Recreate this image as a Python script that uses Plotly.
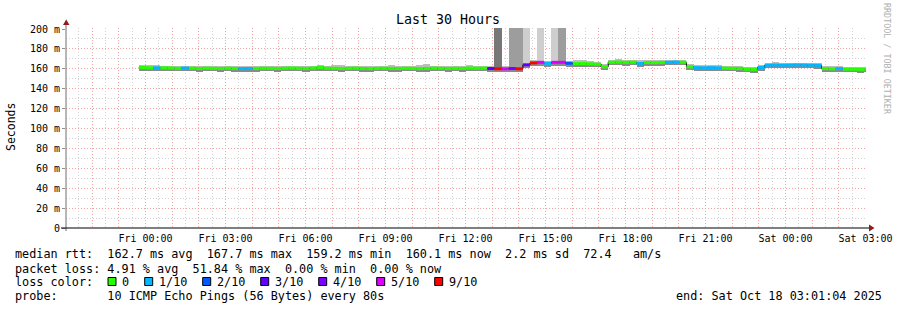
import plotly.graph_objects as go
import pandas as pd

# ---------------- data ----------------
start_time = "2025-10-16 23:45"
step_minutes = 16
axis_start = "2025-10-16 21:01:04"
axis_end = "2025-10-18 03:01:04"

median_ms = [
    161.3, 161.0, 161.0, 161.0, 160.8, 160.5, 160.8, 160.6, 160.4, 160.7,
    160.5, 160.3, 160.6, 160.4, 160.2, 160.3, 160.4, 160.6, 160.5, 160.3,
    160.6, 160.8, 160.5, 160.4, 160.7, 161.4, 160.6, 160.5, 160.3, 160.5,
    160.7, 160.4, 160.2, 160.5, 160.6, 160.4, 160.3, 160.6, 160.5, 160.2,
    160.4, 160.7, 160.5, 160.3, 160.6, 160.4, 160.8, 160.6, 160.7, 160.3,
    160.0, 160.0, 160.3, 160.0, 164.0, 166.0, 166.5, 165.5, 166.5, 166.5,
    165.5, 165.2, 165.3, 165.0, 164.6, 162.0, 166.6, 166.8, 166.5, 166.7,
    165.4, 166.4, 166.2, 166.5, 166.6, 166.8, 166.6, 162.0, 161.2, 161.0,
    161.2, 161.0, 160.6, 160.5, 160.4, 159.5, 159.4, 161.4, 163.6, 163.8,
    163.6, 163.7, 163.9, 163.8, 163.6, 163.5, 160.2, 160.0, 160.2, 159.6,
    159.5, 159.4, 159.6,
]

loss_pings = [
    0, 0, 1, 0, 0, 0, 1, 0, 0, 0,
    0, 0, 0, 0, 1, 1, 0, 0, 0, 0,
    0, 0, 0, 0, 0, 0, 0, 0, 0, 0,
    0, 0, 0, 0, 0, 0, 0, 0, 0, 0,
    0, 0, 0, 0, 0, 0, 0, 0, 0, 3,
    9, 5, 4, 9, 3, 9, 5, 1, 5, 5,
    2, 0, 0, 0, 0, 0, 0, 0, 0, 0,
    1, 0, 0, 0, 1, 1, 0, 0, 1, 1,
    1, 1, 0, 0, 0, 0, 0, 1, 1, 1,
    1, 1, 1, 1, 1, 1, 0, 0, 1, 0,
    0, 0, 0,
]

smoke_low = [
    158.0, 157.8, 157.9, 157.8, 157.6, 157.3, 157.6, 157.4, 157.2, 157.5,
    157.3, 157.1, 157.4, 157.2, 157.0, 157.1, 157.2, 157.4, 157.3, 157.1,
    157.4, 157.6, 157.3, 157.2, 157.5, 158.0, 157.4, 157.3, 157.1, 157.3,
    157.5, 157.2, 157.0, 157.3, 157.4, 157.2, 157.1, 157.4, 157.3, 157.0,
    157.2, 157.5, 157.3, 157.1, 157.4, 157.2, 157.6, 157.4, 157.5, 157.0,
    156.8, 156.9, 157.0, 156.8, 160.6, 162.8, 163.2, 162.3, 163.3, 163.2,
    162.3, 162.0, 162.1, 161.8, 161.4, 158.8, 163.4, 163.6, 163.3, 163.5,
    162.2, 163.2, 163.0, 163.3, 163.4, 163.6, 163.4, 158.8, 158.0, 157.8,
    158.0, 157.8, 157.4, 157.3, 157.2, 156.3, 156.2, 158.2, 160.4, 160.6,
    160.4, 160.5, 160.7, 160.6, 160.4, 160.3, 157.0, 156.8, 157.0, 156.4,
    156.3, 156.2, 156.4,
]

smoke_high = [
    163.8, 163.4, 163.9, 163.3, 163.1, 162.8, 163.2, 162.9, 162.7, 163.1,
    162.8, 162.6, 163.0, 162.7, 162.5, 162.6, 162.7, 163.0, 162.8, 162.6,
    163.0, 163.3, 162.8, 162.7, 163.1, 163.8, 163.2, 164.2, 164.2, 162.8,
    163.0, 162.7, 162.5, 162.8, 163.0, 164.2, 162.6, 163.0, 162.8, 164.3,
    164.5, 163.0, 162.8, 162.6, 163.0, 162.7, 163.8, 163.0, 163.3, 162.6,
    162.3, 162.4, 162.6, 162.3, 166.5, 168.4, 168.9, 168.0, 168.9, 168.9,
    168.0, 168.5, 168.6, 168.0, 167.3, 164.5, 169.0, 169.4, 168.9, 169.2,
    168.4, 168.7, 168.8, 168.9, 169.0, 169.2, 168.9, 164.6, 163.8, 163.4,
    163.9, 163.5, 163.0, 162.9, 163.1, 162.1, 161.9, 163.8, 166.1, 166.4,
    166.2, 166.0, 166.3, 166.2, 166.0, 166.0, 162.7, 162.5, 162.8, 162.1,
    161.9, 161.8, 162.1,
]

# steps where some pings went far above the visible range
spike_index = [50, 52, 53, 54, 56, 58, 59]
spike_max_ms = [260, 260, 260, 260, 260, 260, 260]
spike_shade = ["#777777", "#9d9d9d", "#9d9d9d", "#cecece", "#cecece", "#cecece", "#9d9d9d"]

loss_levels = [0, 1, 2, 3, 4, 5, 9]
loss_labels = ["0", "1/10", "2/10", "3/10", "4/10", "5/10", "9/10"]
loss_colors = ["#26ff00", "#00b8ff", "#0059ff", "#5e00ff", "#7e00ff", "#dd00ff", "#ff0000"]

y_tick_values = [0, 20, 40, 60, 80, 100, 120, 140, 160, 180, 200]
y_tick_labels = ["0", "20 m", "40 m", "60 m", "80 m", "100 m", "120 m", "140 m", "160 m", "180 m", "200 m"]

legend_rows = [
    "median rtt:  162.7 ms avg  167.7 ms max  159.2 ms min  160.1 ms now  2.2 ms sd  72.4   am/s",
    "packet loss: 4.91 % avg  51.84 % max  0.00 % min  0.00 % now",
    "loss color:",
    "probe:       10 ICMP Echo Pings (56 Bytes) every 80s",
]
end_text = "end: Sat Oct 18 03:01:04 2025"

# ---------------- build ----------------
MONO = "DejaVu Sans Mono"
PL, PW, PB, PH = 66, 800, 228, 200
CHAR_W = 7.1
PAD = 3  # annotation inner padding


def px(x):
    return (x - PL) / PW


def py(y):
    return (PB - y) / PH


n = len(median_ms)
times = pd.date_range(start_time, periods=n, freq=f"{step_minutes}min")
step = pd.Timedelta(minutes=step_minutes)
width_ms = step_minutes * 60 * 1000
color_of = dict(zip(loss_levels, loss_colors))

fig = go.Figure()

# smoke below median (darker)
fig.add_trace(go.Bar(
    x=times, base=smoke_low,
    y=[m - lo for m, lo in zip(median_ms, smoke_low)],
    width=width_ms, offset=0, marker=dict(color="#8a8a8a", line=dict(width=0)),
    hoverinfo="skip",
))
# smoke above median (lighter)
fig.add_trace(go.Bar(
    x=times, base=median_ms,
    y=[hi - m for m, hi in zip(median_ms, smoke_high)],
    width=width_ms, offset=0, marker=dict(color="#bdbdbd", line=dict(width=0)),
    hoverinfo="skip",
))
# spikes
fig.add_trace(go.Bar(
    x=[times[i] for i in spike_index],
    base=[median_ms[i] for i in spike_index],
    y=[s - median_ms[i] for s, i in zip(spike_max_ms, spike_index)],
    width=width_ms, offset=0,
    marker=dict(color=spike_shade, line=dict(width=0)),
    hoverinfo="skip",
))
# median step line (black connectors)
t_line = list(times) + [times[-1] + step]
fig.add_trace(go.Scatter(
    x=t_line, y=median_ms + [median_ms[-1]], mode="lines",
    line=dict(color="#000000", width=1, shape="hv"), hoverinfo="skip",
))
# median coloured by loss: one trace per loss level
for lvl, col in zip(loss_levels, loss_colors):
    xs, ys = [], []
    for t, m, l in zip(times, median_ms, loss_pings):
        if l == lvl:
            xs += [t, t + step, None]
            ys += [m, m, None]
    if xs:
        fig.add_trace(go.Scatter(x=xs, y=ys, mode="lines", line=dict(color=col, width=3),
                                 hoverinfo="skip", connectgaps=False))

hour_ticks = pd.date_range("2025-10-16 22:00", "2025-10-18 03:00", freq="1h")
hour_text = [t.strftime("%a %H:%M") if t.hour % 3 == 0 else "" for t in hour_ticks]

grid_major = "#f3a3a3"
grid_minor = "#d2d2d2"
dash = "1px,2px"

fig.update_layout(
    width=897, height=310,
    margin=dict(l=PL, r=897 - PL - PW, t=PB - PH, b=310 - PB, autoexpand=False),
    paper_bgcolor="#ffffff", plot_bgcolor="#ffffff",
    barmode="overlay", bargap=0, showlegend=False,
    font=dict(family=MONO, color="#000000"),
    xaxis=dict(
        type="date", range=[axis_start, axis_end], automargin=False,
        tickmode="array", tickvals=hour_ticks, ticktext=hour_text,
        tickfont=dict(family=MONO, size=10, color="#000000"),
        showgrid=True, gridcolor=grid_major, griddash=dash, gridwidth=1,
        ticks="", ticklabelstandoff=3,
        minor=dict(tick0="2025-10-16 21:30", dtick=1800000, showgrid=True,
                   gridcolor=grid_minor, griddash=dash, gridwidth=1, ticks=""),
        showline=False, zeroline=False, fixedrange=True,
    ),
    yaxis=dict(
        range=[0, 201], automargin=False,
        tickmode="array", tickvals=y_tick_values, ticktext=y_tick_labels,
        tickfont=dict(family=MONO, size=10, color="#000000"),
        showgrid=True, gridcolor=grid_major, griddash=dash, gridwidth=1,
        ticks="outside", ticklen=3, tickcolor="#909090",
        minor=dict(dtick=10, showgrid=True, gridcolor=grid_minor, griddash=dash,
                   gridwidth=1, ticks=""),
        showline=False, zeroline=False, fixedrange=True,
    ),
)

shapes = []
# axis lines
shapes.append(dict(type="line", xref="paper", yref="paper", x0=px(66), x1=px(66),
                   y0=py(231), y1=py(22), line=dict(color="#6e6e6e", width=1)))
shapes.append(dict(type="line", xref="paper", yref="paper", x0=px(61), x1=px(872),
                   y0=0, y1=0, line=dict(color="#000000", width=1)))
# arrows
arrow_col = "#8f1d1d"
shapes.append(dict(type="path", xref="paper", yref="paper",
                   path=f"M {px(63)},{py(25)} L {px(69.5)},{py(25)} L {px(66.2)},{py(19.5)} Z",
                   fillcolor=arrow_col, line=dict(color=arrow_col, width=0)))
shapes.append(dict(type="path", xref="paper", yref="paper",
                   path=f"M {px(869)},{py(224.5)} L {px(869)},{py(231.5)} L {px(874.5)},{py(228)} Z",
                   fillcolor=arrow_col, line=dict(color=arrow_col, width=0)))

annotations = []
txt = dict(xref="paper", yref="paper", showarrow=False, xanchor="left", yanchor="middle")
annotations.append(dict(text="Last 30 Hours", x=px(448), y=py(19.5), xref="paper", yref="paper",
                        showarrow=False, xanchor="center", yanchor="middle",
                        font=dict(family=MONO, size=13.3, color="#000000")))
annotations.append(dict(text="Seconds", x=px(11), y=py(127), xref="paper", yref="paper",
                        showarrow=False, xanchor="center", yanchor="middle", textangle=-90,
                        font=dict(family=MONO, size=11.5, color="#000000")))
annotations.append(dict(text="RRDTOOL / TOBI OETIKER", x=px(887), y=py(59), xref="paper", yref="paper",
                        showarrow=False, xanchor="center", yanchor="middle", textangle=90,
                        font=dict(family=MONO, size=8.4, color="#b0b0b0")))

row_y = [254, 268.5, 282, 296]
for row, yy in zip(legend_rows, row_y):
    annotations.append(dict(text=row.replace(" ", "&nbsp;"), x=px(16 - PAD), y=py(yy),
                            font=dict(family=MONO, size=11.8, color="#000000"), **txt))
annotations.append(dict(text=end_text.replace(" ", "&nbsp;"), x=px(881 + PAD), y=py(296), xref="paper",
                        yref="paper", showarrow=False, xanchor="right", yanchor="middle",
                        font=dict(family=MONO, size=11.8, color="#000000")))

# loss colour legend: box, label, then a two-character gap
bx = 108.0
for lab, col in zip(loss_labels, loss_colors):
    shapes.append(dict(type="rect", xref="paper", yref="paper",
                       x0=px(bx), x1=px(bx + 8), y0=py(285.5), y1=py(277.5),
                       fillcolor=col, line=dict(color="#000000", width=1)))
    annotations.append(dict(text=lab, x=px(bx + 15 - PAD), y=py(282),
                            font=dict(family=MONO, size=11.8, color="#000000"), **txt))
    bx += 15 + len(lab) * CHAR_W + 14.6

fig.update_layout(shapes=shapes, annotations=annotations)
fig.write_html("out.html")
